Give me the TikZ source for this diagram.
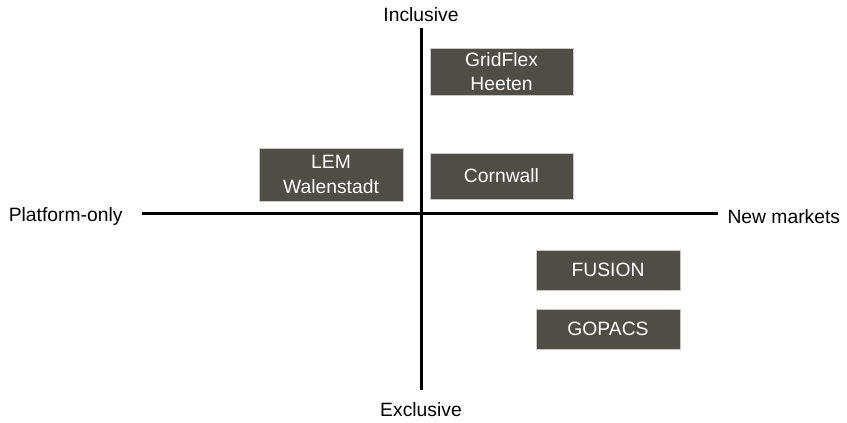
\documentclass[tikz,border=0pt]{standalone}
\usepackage{fontspec}
\setmainfont{Liberation Sans}
\definecolor{boxfill}{HTML}{4F4D45}
\definecolor{boxline}{HTML}{C8C8C4}
\begin{document}
\begin{tikzpicture}[x=1pt,y=-1pt,
  axis/.style={line width=3pt,black},
  qbox/.style={fill=boxfill,draw=boxline,line width=0.6pt,text=white,align=center,
    font=\fontsize{19.3}{24.5}\selectfont,inner sep=0pt},
  lab/.style={font=\fontsize{19.3}{24}\selectfont,text=black}]
\useasboundingbox[fill=white] (0,0) rectangle (847,423);
\coordinate (vt) at (421,28);
\coordinate (vb) at (421,390);
\coordinate (hl) at (142,213);
\coordinate (hr) at (718,213);
\draw[axis] (vt) -- (vb);
\draw[axis] (hl) -- (hr);
\node[lab] (inc) at (421,15) {Inclusive};
\node[lab] (exc) at (421,410) {Exclusive};
\node[lab,anchor=east] (plat) at (126,216.5) {Platform-only};
\node[lab,anchor=west] (newm) at (724,216.5) {New markets};
\node[qbox,minimum width=143pt,minimum height=47pt] (grid) at (501.5,71.5) {GridFlex\\Heeten};
\node[qbox,minimum width=143pt,minimum height=46pt] (corn) at (501.5,176) {Cornwall};
\node[qbox,minimum width=144pt,minimum height=53pt] (lem) at (331,174.5) {LEM\\Walenstadt};
\node[qbox,minimum width=144pt,minimum height=40pt] (fus) at (608,270) {FUSION};
\node[qbox,minimum width=144pt,minimum height=40pt] (gop) at (608,329) {GOPACS};
\end{tikzpicture}
\end{document}
